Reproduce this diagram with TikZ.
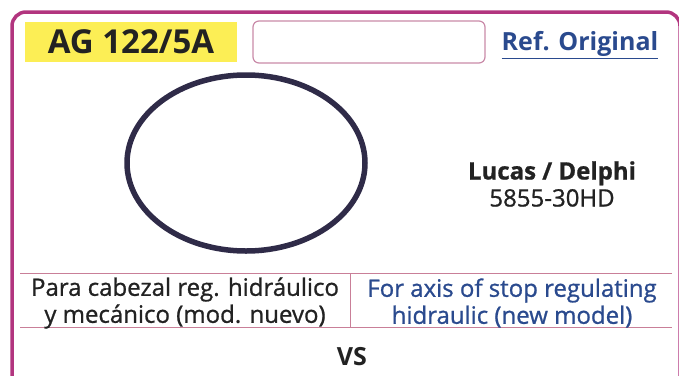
\documentclass[tikz,border=0pt]{standalone}
\usepackage{fontspec}
\setmainfont{Open Sans}
\newfontfamily\semifont[FakeBold=0.9]{Open Sans}
\definecolor{framec}{HTML}{B2357F}
\definecolor{labelyel}{HTML}{FCEE55}
\definecolor{boxpink}{HTML}{C98AA8}
\definecolor{refblue}{HTML}{2A4A8E}
\definecolor{ringc}{HTML}{2F2B48}
\definecolor{rulec}{HTML}{C97F98}
\definecolor{txtc}{HTML}{222222}
\tikzset{
  frame/.style={draw=framec, line width=3.5pt, rounded corners=14pt},
  codelabel/.style={fill=labelyel, minimum width=212pt, minimum height=40pt, inner sep=0pt, font=\bfseries\fontsize{33}{33}\selectfont, text=txtc},
  emptybox/.style={draw=boxpink, line width=1.2pt, rounded corners=6pt, minimum width=232pt, minimum height=42pt, inner sep=0pt},
  reftext/.style={text=refblue, font=\bfseries\fontsize{25}{25}\selectfont},
  ring/.style={draw=ringc, line width=5.5pt},
  maker/.style={align=center, text=txtc, font=\semifont\fontsize{24}{27}\selectfont},
  rule/.style={draw=rulec, line width=1pt},
  cellL/.style={align=center, text=txtc, font=\semifont\fontsize{24}{27}\selectfont},
  cellR/.style={align=center, text=refblue, font=\semifont\fontsize{24}{27}\selectfont},
  vs/.style={text=txtc, font=\bfseries\fontsize{25}{25}\selectfont}
}
\begin{document}
\begin{tikzpicture}[x=1pt,y=-1pt]
\useasboundingbox (0,0) rectangle (679,375);
\begin{scope}
\clip (0,0) rectangle (679,375);
\draw[frame] (12,12) rectangle (680,430);
\end{scope}
\node[codelabel] (code) at (131,42) {AG 122/5A};
\node[emptybox] (blank) at (369,42) {};
\node[reftext] (ref) at (580,45) {\underline{Ref. Original}};
\draw[ring] (246,163) ellipse [x radius=119, y radius=88];
\node[maker] (maker) at (552,184) {{\bfseries Lucas / Delphi}\\5855-30HD};
\coordinate (tl) at (20,273);
\coordinate (tr) at (672,273);
\coordinate (bl) at (20,327);
\coordinate (br) at (672,327);
\coordinate (mt) at (350,273);
\coordinate (mb) at (350,327);
\draw[rule] (tl) -- (tr);
\draw[rule] (bl) -- (br);
\draw[rule] (mt) -- (mb);
\node[cellL] (es) at (185,303) {Para cabezal reg. hidráulico\\y mecánico (mod. nuevo)};
\node[cellR] (en) at (512,303) {For axis of stop regulating\\hidraulic (new model)};
\node[vs] (vsn) at (352,357) {VS};
\end{tikzpicture}
\end{document}
